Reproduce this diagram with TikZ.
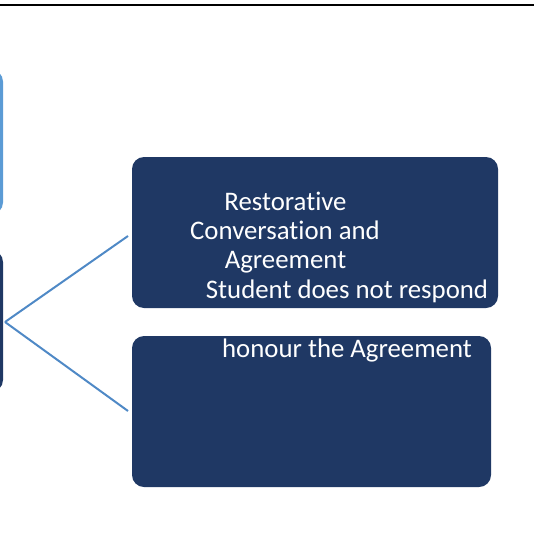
\documentclass[tikz,border=0pt]{standalone}
\usepackage{fontspec}
\setmainfont{Carlito}[Ligatures=NoCommon]
\usepackage{tikz}
\usetikzlibrary{shapes,backgrounds,calc,positioning}
\definecolor{navy}{RGB}{31,56,100}
\definecolor{skyblue}{RGB}{91,155,213}
\definecolor{linkblue}{RGB}{79,137,198}
\tikzstyle{stepbox}=[rounded corners=12pt, inner sep=0pt, outer sep=0pt]
\tikzstyle{boxtext}=[text=white, inner sep=0pt, anchor=base, font=\fontsize{26.8}{29}\selectfont]

\begin{document}
\begin{tikzpicture}[x=1pt, y=-1pt]
    \useasboundingbox (0,0) rectangle (534,532);
    \clip (0,0) rectangle (534,532);
    % Place the boxes
    \node[stepbox, fill=skyblue, minimum width=103pt, minimum height=145pt] (lb1) at (-48.5,142) {};
    \node[stepbox, fill=navy, minimum width=103pt, minimum height=142pt] (lb2) at (-48.5,321) {};
    \node[stepbox, fill=navy, minimum width=366pt, minimum height=151pt] (b1) at (315,232.5) {};
    \node[stepbox, fill=navy, minimum width=359pt, minimum height=151pt] (b2) at (311.5,411.5) {};
    % texts
    \node[boxtext] (r1) at (285.5,210) {Restorative};
    \node[boxtext] (r2) at (285,239) {Conversation and};
    \node[boxtext] (r3) at (285.5,268) {Agreement};
    \node[boxtext] (r4) at (347,298) {Student does not respond};
    \node[boxtext] (h1) at (347,357) {honour the Agreement};

    \draw[line width=1.4pt] (0,5) -- (534,5);

    \coordinate (hub) at (5,322);
    \coordinate (e1) at (128,236);
    \coordinate (e2) at (128,411);
    \path[draw=linkblue, line width=2pt] (hub) edge (e1);
    \path[draw=linkblue, line width=2pt] (hub) edge (e2);
\end{tikzpicture}
\end{document}
